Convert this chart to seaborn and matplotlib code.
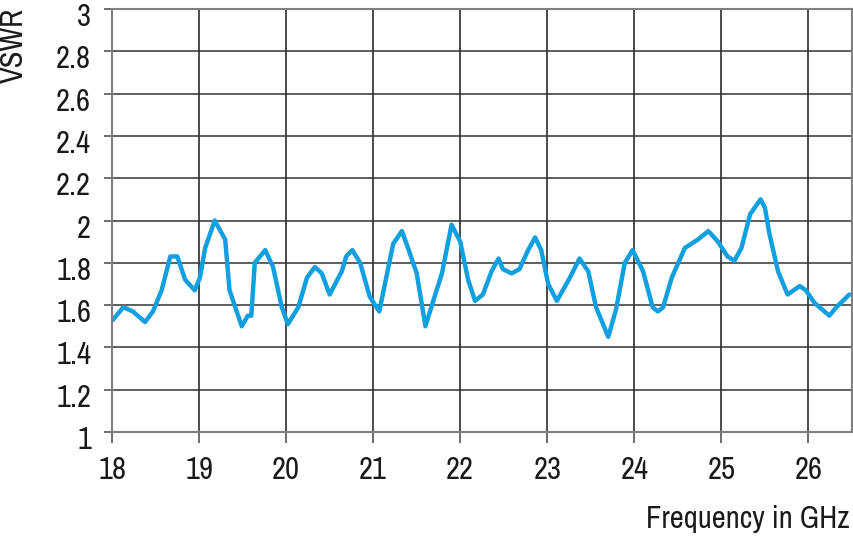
import matplotlib
matplotlib.use("Agg")
import matplotlib.pyplot as plt
import matplotlib.transforms as mtransforms
from matplotlib import font_manager
import seaborn as sns
import pandas as pd

# VSWR trace
freq_ghz = [18.01, 18.13, 18.24, 18.38, 18.47, 18.57, 18.67, 18.75, 18.84, 18.95,
            19.01, 19.07, 19.18, 19.30, 19.35, 19.49, 19.56, 19.60, 19.64, 19.76,
            19.85, 19.95, 20.02, 20.14, 20.24, 20.33, 20.41, 20.50, 20.64, 20.69,
            20.76, 20.85, 20.96, 21.07, 21.15, 21.23, 21.33, 21.40, 21.50, 21.60,
            21.69, 21.79, 21.90, 22.00, 22.09, 22.17, 22.26, 22.36, 22.44, 22.49,
            22.59, 22.68, 22.78, 22.86, 22.93, 23.01, 23.11, 23.26, 23.37, 23.47,
            23.56, 23.70, 23.79, 23.89, 23.98, 24.10, 24.21, 24.27, 24.33, 24.43,
            24.58, 24.73, 24.85, 24.96, 25.07, 25.15, 25.23, 25.33, 25.45, 25.50,
            25.55, 25.65, 25.76, 25.90, 25.97, 26.07, 26.24, 26.32, 26.47]
vswr = [1.53, 1.59, 1.57, 1.52, 1.57, 1.67, 1.83, 1.83, 1.72, 1.67,
        1.73, 1.87, 2.00, 1.91, 1.67, 1.50, 1.55, 1.55, 1.80, 1.86,
        1.78, 1.59, 1.51, 1.59, 1.73, 1.78, 1.75, 1.65, 1.76, 1.83,
        1.86, 1.80, 1.64, 1.57, 1.73, 1.89, 1.95, 1.87, 1.75, 1.50,
        1.62, 1.75, 1.98, 1.90, 1.72, 1.62, 1.65, 1.76, 1.82, 1.77,
        1.75, 1.77, 1.86, 1.92, 1.86, 1.70, 1.62, 1.73, 1.82, 1.76,
        1.59, 1.45, 1.58, 1.80, 1.86, 1.76, 1.59, 1.57, 1.59, 1.73,
        1.87, 1.91, 1.95, 1.90, 1.83, 1.81, 1.87, 2.03, 2.10, 2.06,
        1.94, 1.76, 1.65, 1.69, 1.67, 1.61, 1.55, 1.59, 1.65]

x_ticks = list(range(18, 27))
y_ticks = [1, 1.2, 1.4, 1.6, 1.8, 2, 2.2, 2.4, 2.6, 2.8, 3]
y_tick_labels = ["1", "1.2", "1.4", "1.6", "1.8", "2", "2.2", "2.4", "2.6", "2.8", "3"]

df = pd.DataFrame({"freq": freq_ghz, "vswr": vswr})

# the reference uses a condensed face, take the first narrow one installed
names = sorted({f.name for f in font_manager.fontManager.ttflist})
narrow = [n for n in names if "Narrow" in n or "Condensed" in n]

sns.set_style("white")
plt.rcParams["font.family"] = narrow[:1] + ["DejaVu Sans"]

fig = plt.figure(figsize=(8.54, 5.37), dpi=100)
ax = fig.add_axes([112 / 854, 1 - 432 / 537, (852 - 112) / 854, (432 - 9) / 537])

sns.lineplot(data=df, x="freq", y="vswr", ax=ax, color="#129fe0", linewidth=3.2,
             solid_joinstyle="round", solid_capstyle="round")

ax.set_xlim(18, 26.5)
ax.set_ylim(1, 3)
ax.set_xticks(x_ticks)
ax.set_yticks(y_ticks)
ax.set_yticklabels(y_tick_labels)

# grid: vertical lines darker than horizontal ones
for xv in x_ticks:
    ax.axvline(xv, color="#1a1a1a", lw=1.1, zorder=0)
for yv in y_ticks:
    ax.axhline(yv, color="#333333", lw=1.1, zorder=0)

for s in ax.spines.values():
    s.set_color("#808080")
    s.set_linewidth(1.5)

ax.tick_params(axis="x", direction="out", length=8, width=1.2, color="#555555",
               labelsize=22, labelcolor="#1a1a1a", pad=9)
ax.tick_params(axis="y", direction="out", length=6, width=1.2, color="#555555",
               labelsize=22, labelcolor="#1a1a1a", pad=9)
ax.tick_params(bottom=True, left=True)

# labels sit a little below their grid line in the reference
shift = mtransforms.ScaledTranslation(0, -4 / 72, fig.dpi_scale_trans)
for lab in ax.get_yticklabels():
    lab.set_transform(lab.get_transform() + shift)

ax.set_xlabel("")
ax.set_ylabel("")
fig.text(850 / 854, 1 - 528 / 537, "Frequency in GHz", ha="right", va="baseline",
         fontsize=22, color="#1a1a1a")
fig.text(0 / 854, 1 - 8 / 537, "VSWR", rotation=90, ha="left", va="top",
         fontsize=22, color="#1a1a1a")

fig.savefig("out.png", dpi=100)
